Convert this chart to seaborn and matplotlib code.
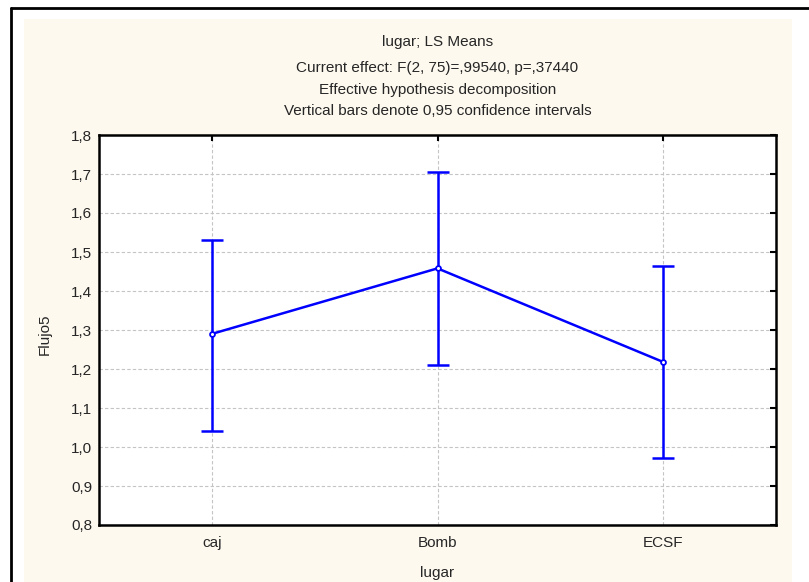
import numpy as np
import pandas as pd
import matplotlib
matplotlib.use("Agg")
import matplotlib.pyplot as plt
from matplotlib.patches import Rectangle
from matplotlib.lines import Line2D
from matplotlib.ticker import FuncFormatter
import seaborn as sns

# LS means of Flujo5 per site, with 0.95 confidence limits
lugar = ["caj", "Bomb", "ECSF"]
flujo5_mean = [1.290, 1.458, 1.218]
ci_lower = [1.040, 1.210, 0.971]
ci_upper = [1.532, 1.705, 1.463]
yticks = [0.8, 0.9, 1.0, 1.1, 1.2, 1.3, 1.4, 1.5, 1.6, 1.7, 1.8]

title_lines = [
    "lugar; LS Means",
    "Current effect: F(2, 75)=,99540, p=,37440",
    "Effective hypothesis decomposition",
    "Vertical bars denote 0,95 confidence intervals",
]

sns.set_style("white")
plt.rcParams["font.family"] = ["Liberation Sans", "DejaVu Sans"]
FS = 11
plt.rcParams["font.size"] = FS

df = pd.DataFrame({"lugar": lugar, "Flujo5": flujo5_mean})

W, H = 809, 582
fig = plt.figure(figsize=(W / 100, H / 100), dpi=100)
fig.patch.set_facecolor("white")

# cream panel and outer frame
fig.add_artist(Rectangle((24 / W, 0), (792 - 24) / W, 1 - 19 / H,
                         transform=fig.transFigure, facecolor="#fdf9ef",
                         edgecolor="none", zorder=0))
fig.add_artist(Line2D([11 / W, 1], [1 - 8 / H, 1 - 8 / H],
                      transform=fig.transFigure, color="black", lw=2))
fig.add_artist(Line2D([11 / W, 11 / W], [0, 1 - 8 / H],
                      transform=fig.transFigure, color="black", lw=2))

ax = fig.add_axes([99 / W, 1 - 525 / H, 677 / W, 390 / H])
ax.set_facecolor("white")

x = np.arange(len(lugar))
mean = np.array(flujo5_mean)
yerr = [mean - np.array(ci_lower), np.array(ci_upper) - mean]
ax.errorbar(x, mean, yerr=yerr, fmt="none", ecolor="#0000ff",
            elinewidth=1.8, capsize=8, capthick=1.8, zorder=3)

sns.pointplot(data=df, x="lugar", y="Flujo5", errorbar=None, color="#0000ff",
              markers="o", linewidth=1.8, markersize=3.5,
              markerfacecolor="white", markeredgecolor="#0000ff",
              markeredgewidth=1.3, ax=ax, zorder=4)

ax.set_xlim(-0.5, len(lugar) - 0.5)
ax.set_ylim(yticks[0], yticks[-1])
ax.set_yticks(yticks)
ax.yaxis.set_major_formatter(FuncFormatter(lambda v, p: f"{v:.1f}".replace(".", ",")))

ax.set_axisbelow(True)
ax.grid(True, color="#c4c4c4", linestyle=(0, (3, 2)), linewidth=0.8)

for s in ax.spines.values():
    s.set_visible(True)
    s.set_color("black")
    s.set_linewidth(1.8)

ax.tick_params(axis="both", direction="in", top=True, right=True,
               length=4, width=1.5, color="black", labelsize=FS)
ax.tick_params(axis="x", pad=8)
ax.tick_params(axis="y", pad=5)

ax.set_xlabel("lugar", fontsize=FS, va="center")
ax.xaxis.set_label_coords(0.5, (525 - 573) / 390)
ax.set_ylabel("Flujo5", fontsize=FS, va="center")
ax.yaxis.set_label_coords((45 - 99) / 677, 0.49)

cx = (99 + 776) / 2 / W
for txt, ypx in zip(title_lines, [42, 68, 90, 111]):
    fig.text(cx, 1 - ypx / H, txt, ha="center", va="center", fontsize=FS)

fig.savefig("out.png", dpi=100, facecolor=fig.get_facecolor())
